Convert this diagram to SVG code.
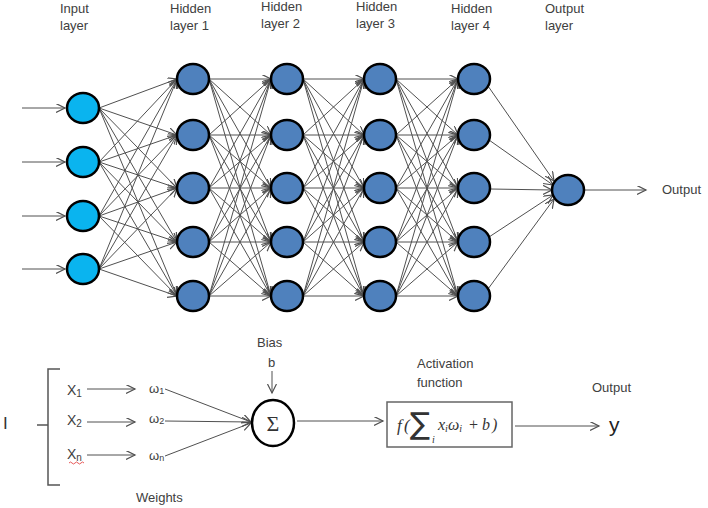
<svg xmlns="http://www.w3.org/2000/svg" width="708" height="508" viewBox="0 0 708 508">
<style>
.t{font-family:"Liberation Sans",Arial,sans-serif;font-size:13px;fill:#404040}
.c{stroke:#505050;stroke-width:1;fill:none;marker-end:url(#ah)}
.in{fill:#0AB4EF;stroke:#000;stroke-width:2.5}
.hd{fill:#4F81BD;stroke:#000;stroke-width:2.5}
.m{font-family:"Liberation Serif","Times New Roman",serif;font-style:italic;fill:#333}
</style>
<defs>
<marker id="ah" markerUnits="userSpaceOnUse" markerWidth="12" markerHeight="12" refX="9" refY="4.5" orient="auto">
<path d="M0,0 L9,4.5 L0,9" fill="none" stroke="#505050" stroke-width="1.2"/>
</marker>
</defs>
<rect width="708" height="508" fill="#fff"/>

<g id="labels">
<text class="t" x="60" y="13">Input</text><text class="t" x="60" y="30">layer</text>
<text class="t" x="170" y="13">Hidden</text><text class="t" x="170" y="30">layer 1</text>
<text class="t" x="261" y="11">Hidden</text><text class="t" x="261" y="28">layer 2</text>
<text class="t" x="356" y="11">Hidden</text><text class="t" x="356" y="28">layer 3</text>
<text class="t" x="451" y="13">Hidden</text><text class="t" x="451" y="30">layer 4</text>
<text class="t" x="545" y="13">Output</text><text class="t" x="545" y="30">layer</text>
<text class="t" x="662" y="194">Output</text>
</g>

<g id="connectors">
<line class="c" x1="22" y1="108" x2="65" y2="108"/>
<line class="c" x1="22" y1="162" x2="65" y2="162"/>
<line class="c" x1="22" y1="216" x2="65" y2="216"/>
<line class="c" x1="22" y1="269" x2="65" y2="269"/>

<line class="c" x1="99" y1="108" x2="177" y2="79"/><line class="c" x1="99" y1="108" x2="177" y2="135"/><line class="c" x1="99" y1="108" x2="177" y2="188"/><line class="c" x1="99" y1="108" x2="177" y2="242"/><line class="c" x1="99" y1="108" x2="177" y2="296"/>
<line class="c" x1="99" y1="162" x2="177" y2="79"/><line class="c" x1="99" y1="162" x2="177" y2="135"/><line class="c" x1="99" y1="162" x2="177" y2="188"/><line class="c" x1="99" y1="162" x2="177" y2="242"/><line class="c" x1="99" y1="162" x2="177" y2="296"/>
<line class="c" x1="99" y1="216" x2="177" y2="79"/><line class="c" x1="99" y1="216" x2="177" y2="135"/><line class="c" x1="99" y1="216" x2="177" y2="188"/><line class="c" x1="99" y1="216" x2="177" y2="242"/><line class="c" x1="99" y1="216" x2="177" y2="296"/>
<line class="c" x1="99" y1="269" x2="177" y2="79"/><line class="c" x1="99" y1="269" x2="177" y2="135"/><line class="c" x1="99" y1="269" x2="177" y2="188"/><line class="c" x1="99" y1="269" x2="177" y2="242"/><line class="c" x1="99" y1="269" x2="177" y2="296"/>

<line class="c" x1="209" y1="79" x2="271" y2="79"/><line class="c" x1="209" y1="79" x2="271" y2="135"/><line class="c" x1="209" y1="79" x2="271" y2="188"/><line class="c" x1="209" y1="79" x2="271" y2="242"/><line class="c" x1="209" y1="79" x2="271" y2="296"/>
<line class="c" x1="209" y1="135" x2="271" y2="79"/><line class="c" x1="209" y1="135" x2="271" y2="135"/><line class="c" x1="209" y1="135" x2="271" y2="188"/><line class="c" x1="209" y1="135" x2="271" y2="242"/><line class="c" x1="209" y1="135" x2="271" y2="296"/>
<line class="c" x1="209" y1="188" x2="271" y2="79"/><line class="c" x1="209" y1="188" x2="271" y2="135"/><line class="c" x1="209" y1="188" x2="271" y2="188"/><line class="c" x1="209" y1="188" x2="271" y2="242"/><line class="c" x1="209" y1="188" x2="271" y2="296"/>
<line class="c" x1="209" y1="242" x2="271" y2="79"/><line class="c" x1="209" y1="242" x2="271" y2="135"/><line class="c" x1="209" y1="242" x2="271" y2="188"/><line class="c" x1="209" y1="242" x2="271" y2="242"/><line class="c" x1="209" y1="242" x2="271" y2="296"/>
<line class="c" x1="209" y1="296" x2="271" y2="79"/><line class="c" x1="209" y1="296" x2="271" y2="135"/><line class="c" x1="209" y1="296" x2="271" y2="188"/><line class="c" x1="209" y1="296" x2="271" y2="242"/><line class="c" x1="209" y1="296" x2="271" y2="296"/>

<line class="c" x1="303" y1="79" x2="364" y2="79"/><line class="c" x1="303" y1="79" x2="364" y2="135"/><line class="c" x1="303" y1="79" x2="364" y2="188"/><line class="c" x1="303" y1="79" x2="364" y2="242"/><line class="c" x1="303" y1="79" x2="364" y2="296"/>
<line class="c" x1="303" y1="135" x2="364" y2="79"/><line class="c" x1="303" y1="135" x2="364" y2="135"/><line class="c" x1="303" y1="135" x2="364" y2="188"/><line class="c" x1="303" y1="135" x2="364" y2="242"/><line class="c" x1="303" y1="135" x2="364" y2="296"/>
<line class="c" x1="303" y1="188" x2="364" y2="79"/><line class="c" x1="303" y1="188" x2="364" y2="135"/><line class="c" x1="303" y1="188" x2="364" y2="188"/><line class="c" x1="303" y1="188" x2="364" y2="242"/><line class="c" x1="303" y1="188" x2="364" y2="296"/>
<line class="c" x1="303" y1="242" x2="364" y2="79"/><line class="c" x1="303" y1="242" x2="364" y2="135"/><line class="c" x1="303" y1="242" x2="364" y2="188"/><line class="c" x1="303" y1="242" x2="364" y2="242"/><line class="c" x1="303" y1="242" x2="364" y2="296"/>
<line class="c" x1="303" y1="296" x2="364" y2="79"/><line class="c" x1="303" y1="296" x2="364" y2="135"/><line class="c" x1="303" y1="296" x2="364" y2="188"/><line class="c" x1="303" y1="296" x2="364" y2="242"/><line class="c" x1="303" y1="296" x2="364" y2="296"/>

<line class="c" x1="396" y1="79" x2="458" y2="79"/><line class="c" x1="396" y1="79" x2="458" y2="135"/><line class="c" x1="396" y1="79" x2="458" y2="188"/><line class="c" x1="396" y1="79" x2="458" y2="242"/><line class="c" x1="396" y1="79" x2="458" y2="296"/>
<line class="c" x1="396" y1="135" x2="458" y2="79"/><line class="c" x1="396" y1="135" x2="458" y2="135"/><line class="c" x1="396" y1="135" x2="458" y2="188"/><line class="c" x1="396" y1="135" x2="458" y2="242"/><line class="c" x1="396" y1="135" x2="458" y2="296"/>
<line class="c" x1="396" y1="188" x2="458" y2="79"/><line class="c" x1="396" y1="188" x2="458" y2="135"/><line class="c" x1="396" y1="188" x2="458" y2="188"/><line class="c" x1="396" y1="188" x2="458" y2="242"/><line class="c" x1="396" y1="188" x2="458" y2="296"/>
<line class="c" x1="396" y1="242" x2="458" y2="79"/><line class="c" x1="396" y1="242" x2="458" y2="135"/><line class="c" x1="396" y1="242" x2="458" y2="188"/><line class="c" x1="396" y1="242" x2="458" y2="242"/><line class="c" x1="396" y1="242" x2="458" y2="296"/>
<line class="c" x1="396" y1="296" x2="458" y2="79"/><line class="c" x1="396" y1="296" x2="458" y2="135"/><line class="c" x1="396" y1="296" x2="458" y2="188"/><line class="c" x1="396" y1="296" x2="458" y2="242"/><line class="c" x1="396" y1="296" x2="458" y2="296"/>

<line class="c" x1="488" y1="86" x2="554" y2="181"/>
<line class="c" x1="489" y1="140" x2="553" y2="185"/>
<line class="c" x1="490" y1="189" x2="552" y2="190"/>
<line class="c" x1="489" y1="237" x2="553" y2="195"/>
<line class="c" x1="488" y1="289" x2="554" y2="199"/>
<line class="c" x1="584" y1="190" x2="646" y2="190"/>

<line class="c" x1="87" y1="389" x2="135" y2="389"/>
<line class="c" x1="87" y1="422" x2="135" y2="422"/>
<line class="c" x1="87" y1="455" x2="135" y2="455"/>
<line class="c" x1="165" y1="389" x2="251" y2="422"/>
<line class="c" x1="165" y1="421" x2="251" y2="422"/>
<line class="c" x1="165" y1="456" x2="251" y2="423"/>
<line class="c" x1="272" y1="371" x2="272" y2="393"/>
<line class="c" x1="297" y1="421" x2="383" y2="421"/>
<line class="c" x1="515" y1="426" x2="599" y2="426"/>
</g>

<g id="input-nodes">
<g id="in1"><ellipse class="in" cx="83" cy="108" rx="16" ry="15"/></g>
<g id="in2"><ellipse class="in" cx="83" cy="162" rx="16" ry="15"/></g>
<g id="in3"><ellipse class="in" cx="83" cy="216" rx="16" ry="15"/></g>
<g id="in4"><ellipse class="in" cx="83" cy="269" rx="16" ry="15"/></g>
</g>
<g id="hidden1">
<g id="h1n1"><ellipse class="hd" cx="193" cy="79" rx="16" ry="15"/></g>
<g id="h1n2"><ellipse class="hd" cx="193" cy="135" rx="16" ry="15"/></g>
<g id="h1n3"><ellipse class="hd" cx="193" cy="188" rx="16" ry="15"/></g>
<g id="h1n4"><ellipse class="hd" cx="193" cy="242" rx="16" ry="15"/></g>
<g id="h1n5"><ellipse class="hd" cx="193" cy="296" rx="16" ry="15"/></g>
</g>
<g id="hidden2">
<g id="h2n1"><ellipse class="hd" cx="287" cy="79" rx="16" ry="15"/></g>
<g id="h2n2"><ellipse class="hd" cx="287" cy="135" rx="16" ry="15"/></g>
<g id="h2n3"><ellipse class="hd" cx="287" cy="188" rx="16" ry="15"/></g>
<g id="h2n4"><ellipse class="hd" cx="287" cy="242" rx="16" ry="15"/></g>
<g id="h2n5"><ellipse class="hd" cx="287" cy="296" rx="16" ry="15"/></g>
</g>
<g id="hidden3">
<g id="h3n1"><ellipse class="hd" cx="380" cy="79" rx="16" ry="15"/></g>
<g id="h3n2"><ellipse class="hd" cx="380" cy="135" rx="16" ry="15"/></g>
<g id="h3n3"><ellipse class="hd" cx="380" cy="188" rx="16" ry="15"/></g>
<g id="h3n4"><ellipse class="hd" cx="380" cy="242" rx="16" ry="15"/></g>
<g id="h3n5"><ellipse class="hd" cx="380" cy="296" rx="16" ry="15"/></g>
</g>
<g id="hidden4">
<g id="h4n1"><ellipse class="hd" cx="474" cy="79" rx="16" ry="15"/></g>
<g id="h4n2"><ellipse class="hd" cx="474" cy="135" rx="16" ry="15"/></g>
<g id="h4n3"><ellipse class="hd" cx="474" cy="188" rx="16" ry="15"/></g>
<g id="h4n4"><ellipse class="hd" cx="474" cy="242" rx="16" ry="15"/></g>
<g id="h4n5"><ellipse class="hd" cx="474" cy="296" rx="16" ry="15"/></g>
</g>
<g id="output-node"><ellipse class="hd" cx="568" cy="190" rx="16" ry="15"/></g>

<g id="perceptron-inputs">
<text x="3" y="429" style="font-family:'Liberation Sans',Arial,sans-serif;font-size:17px;fill:#333">I</text>
<path d="M60,369 H48 V425 H37 M48,425 V485 H60" fill="none" stroke="#555" stroke-width="1.5"/>
<text class="t" x="67" y="395" style="font-size:14px">X<tspan font-size="10" dy="2">1</tspan></text>
<text class="t" x="67" y="425" style="font-size:14px">X<tspan font-size="10" dy="2">2</tspan></text>
<text class="t" x="67" y="459" style="font-size:14px">X<tspan font-size="10" dy="2">n</tspan></text>
<path d="M69,463 q1.5,-2 3,0 t3,0 t3,0 t3,0 t3,0" fill="none" stroke="#e03030" stroke-width="0.8"/>
</g>
<g id="weights">
<text class="t" x="149" y="393">ω<tspan font-size="9" dy="1">1</tspan></text>
<text class="t" x="149" y="423">ω<tspan font-size="9" dy="1">2</tspan></text>
<text class="t" x="149" y="460">ω<tspan font-size="9" dy="1">n</tspan></text>
<text class="t" x="136" y="502">Weights</text>
</g>
<g id="bias">
<text class="t" x="257" y="347">Bias</text>
<text class="t" x="268" y="367">b</text>
</g>
<g id="sum-node">
<ellipse cx="273" cy="423" rx="21" ry="23" fill="#fff" stroke="#000" stroke-width="2.5"/>
<text x="273" y="431" text-anchor="middle" style="font-family:'Liberation Serif','Times New Roman',serif;font-size:22px;fill:#333">Σ</text>
</g>
<g id="activation">
<text class="t" x="417" y="368">Activation</text>
<text class="t" x="417" y="387">function</text>
<rect x="387" y="402" width="125" height="45" fill="#fff" stroke="#666" stroke-width="1.5"/>
<text class="m" x="397" y="431" font-size="17">f</text>
<text class="m" x="404" y="431" font-size="17" font-style="normal">(</text>
<text x="410" y="434" style="font-family:'DejaVu Sans',sans-serif;font-size:30px;fill:#333">∑</text>
<text class="m" x="432" y="443" font-size="10">i</text>
<text class="m" x="438" y="430" font-size="16">x<tspan font-size="10" dy="2">i</tspan><tspan dy="-2">ω</tspan><tspan font-size="10" dy="2">i</tspan></text>
<text class="m" x="468" y="430" font-size="16" font-style="normal">+</text>
<text class="m" x="482" y="430" font-size="16">b</text>
<text class="m" x="492" y="430" font-size="16" font-style="normal">)</text>
</g>
<g id="output-y">
<text class="t" x="592" y="392">Output</text>
<text x="609" y="432" style="font-family:'Liberation Sans',Arial,sans-serif;font-size:21px;fill:#222">y</text>
</g>
</svg>
